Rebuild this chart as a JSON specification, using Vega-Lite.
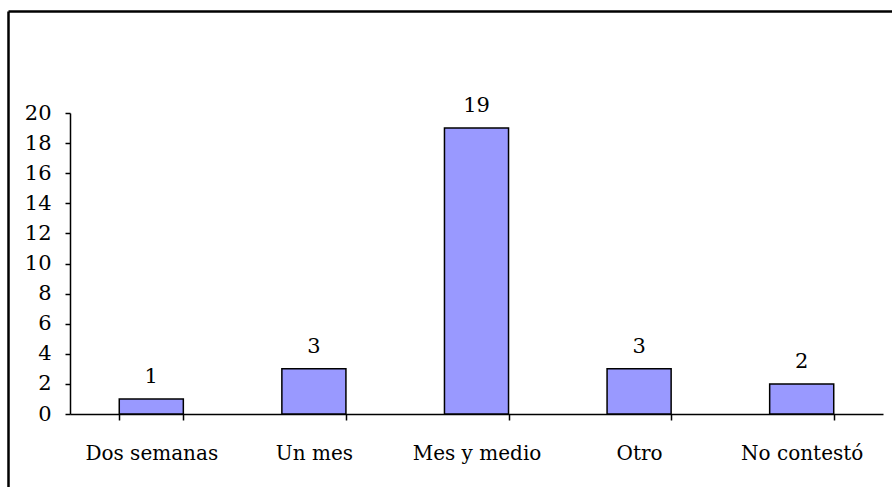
{
  "$schema": "https://vega.github.io/schema/vega-lite/v6.json",
  "autosize": "none",
  "width": 813,
  "height": 301,
  "padding": {"left": 70, "top": 113, "right": 9, "bottom": 73},
  "background": "white",
  "config": {
    "view": {"stroke": null},
    "font": "DejaVu Serif",
    "text": {"font": "DejaVu Serif"},
    "axis": {"grid": false, "domainColor": "black", "tickColor": "black", "labelColor": "black", "labelFont": "DejaVu Serif", "labelFontSize": 21, "domainWidth": 1.5, "tickWidth": 1.5, "title": null}
  },
  "layer": [
    {
      "data": {"values": [
        {"categoria": "Dos semanas", "n": 1},
        {"categoria": "Un mes", "n": 3},
        {"categoria": "Mes y medio", "n": 19},
        {"categoria": "Otro", "n": 3},
        {"categoria": "No contestó", "n": 2}
      ]},
      "encoding": {
        "x": {"field": "categoria", "type": "nominal", "sort": null,
          "scale": {"paddingInner": 0.606, "paddingOuter": 0.303},
          "axis": {"orient": "bottom", "labelAngle": 0, "tickBand": "extent", "tickSize": 6, "labelPadding": 23, "labelFontSize": 20}},
        "y": {"field": "n", "type": "quantitative",
          "scale": {"domain": [0, 20], "nice": false},
          "axis": {"orient": "left", "values": [0,2,4,6,8,10,12,14,16,18,20], "tickSize": 5, "labelPadding": 14}}
      },
      "layer": [
        {"mark": {"type": "bar", "color": "#9999FF", "stroke": "black", "strokeWidth": 1.5}},
        {"mark": {"type": "text", "baseline": "bottom", "dy": -12, "fontSize": 21, "color": "black"},
          "encoding": {"text": {"field": "n", "type": "quantitative"}}}
      ]
    },
    {
      "data": {"values": [{"fx": 0, "fy": 0}, {"fx": 1, "fy": 1}]},
      "mark": {"type": "point", "opacity": 0},
      "encoding": {
        "x": {"field": "fx", "type": "quantitative",
          "scale": {"domain": [0, 1], "range": [-62, 822], "nice": false, "zero": false},
          "axis": {"orient": "top", "offset": 102, "ticks": false, "labels": false, "domainWidth": 2.5}},
        "y": {"field": "fy", "type": "quantitative",
          "scale": {"domain": [0, 1], "range": [374, -102], "nice": false, "zero": false},
          "axis": {"orient": "left", "offset": 62, "ticks": false, "labels": false, "domainWidth": 2.5}}
      }
    }
  ],
  "resolve": {"scale": {"x": "independent", "y": "independent"}, "axis": {"x": "independent", "y": "independent"}}
}
